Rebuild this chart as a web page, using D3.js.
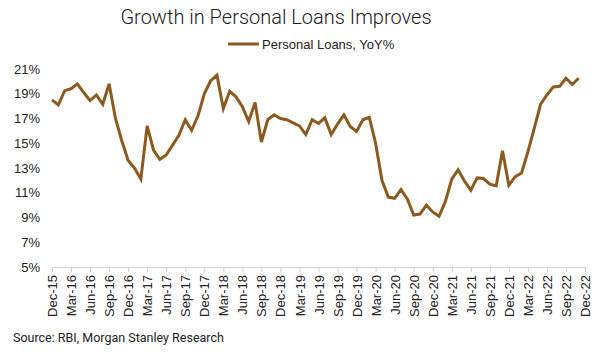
<!DOCTYPE html>
<html>
<head>
<meta charset="utf-8">
<script src="https://cdn.jsdelivr.net/npm/d3@7"></script>
<style>
  html, body { margin: 0; padding: 0; background: #fff; }
  text { font-family: Roboto, "Liberation Sans", Arial, sans-serif; }
</style>
</head>
<body>
<svg id="chart" width="600" height="356"></svg>
<script>
const title = "Growth in Personal Loans Improves";
const seriesName = "Personal Loans, YoY%";
const source = "Source: RBI, Morgan Stanley Research";

const months = ["Dec","Jan","Feb","Mar","Apr","May","Jun","Jul","Aug","Sep","Oct","Nov"];
// Monthly YoY growth (%), Dec-15 .. Nov-22
const values = [
  18.5, 18.1, 19.25, 19.4, 19.8, 19.1, 18.45, 18.9, 18.15, 19.8, 17.0, 15.2,
  13.6, 13.0, 12.1, 16.4, 14.45, 13.7, 14.05, 14.85, 15.65, 16.9, 16.05, 17.2,
  19.0, 20.05, 20.5, 17.8, 19.2, 18.75, 17.95, 16.75, 18.3, 15.1, 16.9, 17.3,
  17.0, 16.9, 16.65, 16.4, 15.7, 16.9, 16.6, 17.05, 15.7, 16.55, 17.3, 16.35,
  15.95, 16.9, 17.1, 15.0, 12.0, 10.65, 10.55, 11.25, 10.5, 9.2, 9.28, 10.0,
  9.45, 9.1, 10.3, 12.1, 12.85, 11.95, 11.2, 12.2, 12.15, 11.7, 11.55, 14.4,
  11.6, 12.3, 12.6, 14.3, 16.2, 18.15, 18.9, 19.55, 19.6, 20.25, 19.75, 20.25
];
const yTicks = [5, 7, 9, 11, 13, 15, 17, 19, 21];

// Category labels: Dec-15 .. Dec-22 (85 months)
const categories = d3.range(85).map(i => {
  const m = months[i % 12];
  const yr = 15 + Math.floor((i + 11) / 12);
  return m + "-" + yr;
});
const xTickLabels = categories.filter((d, i) => i % 3 === 0);

const svg = d3.select("#chart");
const axisFont = "'Liberation Sans', Arial, sans-serif";

const x = d3.scalePoint().domain(categories).range([52, 585]);
const y = d3.scaleLinear().domain([5, 21]).range([267, 69]);

// Title
svg.append("text")
  .attr("x", 276).attr("y", 24)
  .attr("text-anchor", "middle")
  .attr("font-size", 20)
  .attr("font-weight", 300)
  .attr("fill", "#1a1a1a")
  .text(title);

// Legend
svg.append("line")
  .attr("x1", 228).attr("x2", 259).attr("y1", 44).attr("y2", 44)
  .attr("stroke", "#8C5A1E").attr("stroke-width", 3);
svg.append("text")
  .attr("x", 262).attr("y", 48.5)
  .attr("font-size", 13)
  .attr("fill", "#222")
  .style("font-family", axisFont)
  .text(seriesName);

// Y axis (labels only)
const yAxis = d3.axisLeft(y).tickValues(yTicks).tickFormat(d => d + "%").tickSize(0).tickPadding(0);
const gy = svg.append("g").attr("transform", "translate(40,0)").call(yAxis);
gy.select(".domain").remove();
gy.selectAll("text").attr("font-size", 13).attr("fill", "#222")
  .style("font-family", axisFont);

// X axis
const xAxis = d3.axisBottom(x).tickValues(xTickLabels).tickSize(5).tickPadding(3);
const gx = svg.append("g").attr("transform", "translate(0,267)").call(xAxis);
gx.select(".domain").attr("stroke", "#d0d0d0").attr("d", "M52,0.5H585");
gx.selectAll(".tick line").attr("stroke", "#d0d0d0");
gx.selectAll("text")
  .attr("font-size", 13).attr("fill", "#222")
  .style("font-family", axisFont)
  .attr("transform", "rotate(-90)")
  .attr("text-anchor", "end")
  .attr("x", -8).attr("y", 0).attr("dy", "0.35em");

// Line
const line = d3.line()
  .x((d, i) => x(categories[i]))
  .y(d => y(d));
svg.append("path")
  .datum(values)
  .attr("fill", "none")
  .attr("stroke", "#8C5A1E")
  .attr("stroke-width", 3)
  .attr("stroke-linejoin", "miter")
  .attr("d", line);

// Source
svg.append("text")
  .attr("x", 13).attr("y", 342)
  .attr("font-size", 12.5)
  .attr("fill", "#222")
  .text(source);
</script>
</body>
</html>
